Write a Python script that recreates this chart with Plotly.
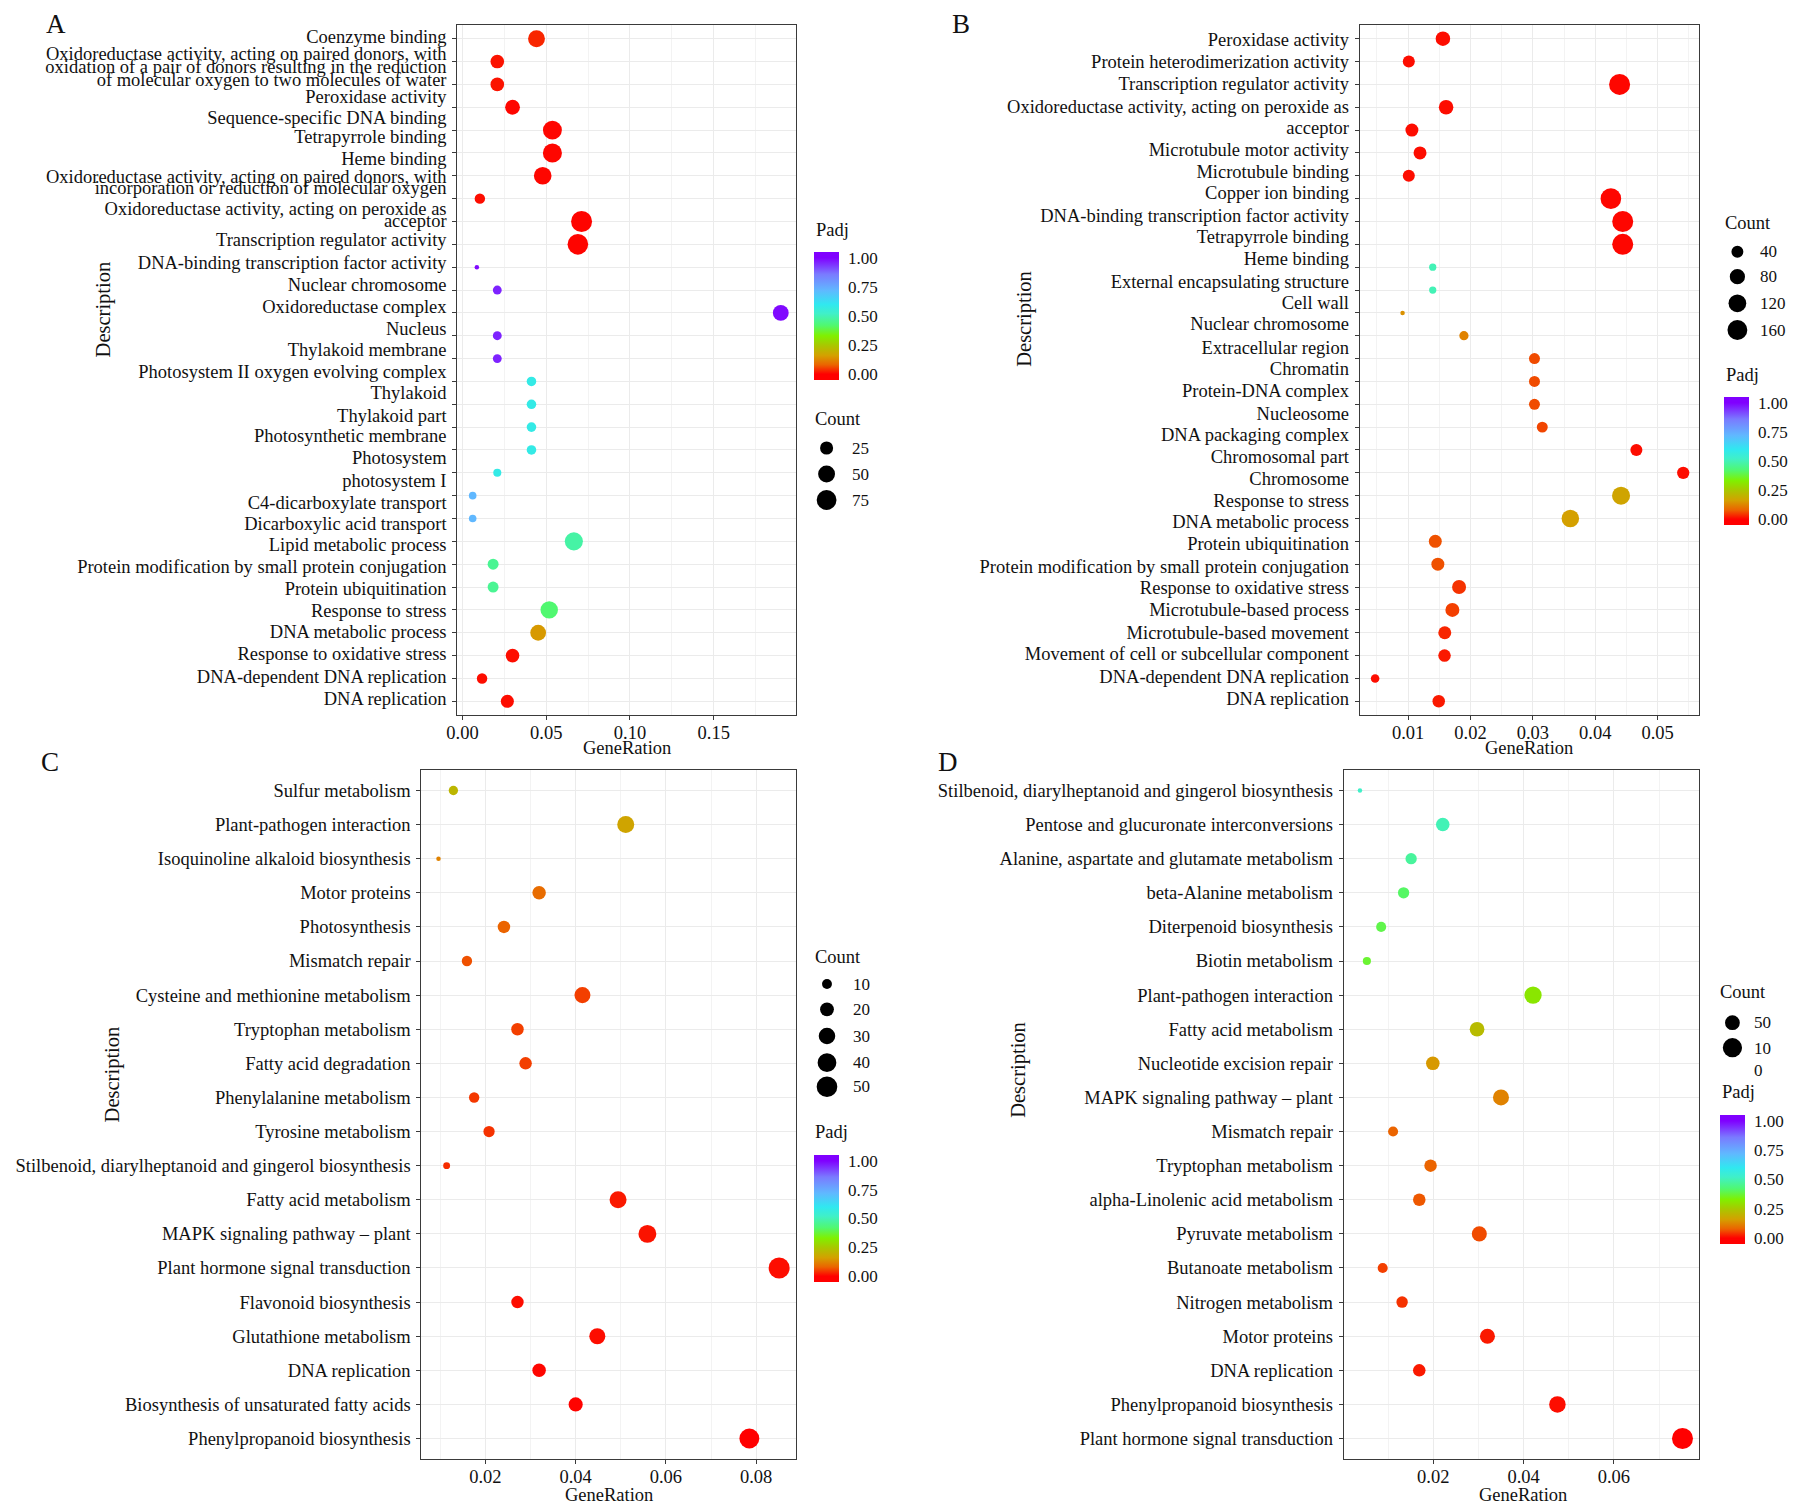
import math
import plotly.graph_objects as go

FONT = "Liberation Serif"
W, H = 1801, 1512

# ------------------------------------------------------------------ data
terms_A = [
    "Coenzyme binding",
    "Oxidoreductase activity, acting on paired donors, with oxidation of a pair of donors resulting in the reduction of molecular oxygen to two molecules of water",
    "Peroxidase activity",
    "Sequence-specific DNA binding",
    "Tetrapyrrole binding",
    "Heme binding",
    "Oxidoreductase activity, acting on paired donors, with incorporation or reduction of molecular oxygen",
    "Oxidoreductase activity, acting on peroxide as acceptor",
    "Transcription regulator activity",
    "DNA-binding transcription factor activity",
    "Nuclear chromosome",
    "Oxidoreductase complex",
    "Nucleus",
    "Thylakoid membrane",
    "Photosystem II oxygen evolving complex",
    "Thylakoid",
    "Thylakoid part",
    "Photosynthetic membrane",
    "Photosystem",
    "photosystem I",
    "C4-dicarboxylate transport",
    "Dicarboxylic acid transport",
    "Lipid metabolic process",
    "Protein modification by small protein conjugation",
    "Protein ubiquitination",
    "Response to stress",
    "DNA metabolic process",
    "Response to oxidative stress",
    "DNA-dependent DNA replication",
    "DNA replication",
]
generatio_A = [0.0442, 0.0208, 0.0208, 0.0299, 0.0537, 0.0537, 0.0479, 0.0104, 0.0711, 0.0689,
               0.0086, 0.0208, 0.1900, 0.0208, 0.0208, 0.0412, 0.0412, 0.0412, 0.0412, 0.0208,
               0.0061, 0.0061, 0.0665, 0.0183, 0.0183, 0.0518, 0.0452, 0.0299, 0.0117, 0.0268]
count_A = [50, 28, 28, 35, 67, 68, 56, 13, 87, 83,
           2, 8, 42, 8, 8, 10, 10, 10, 10, 6,
           5, 5, 60, 15, 15, 54, 42, 28, 13, 25]
padj_A = [0.03, 0.015, 0.015, 0.005, 0.005, 0.005, 0.005, 0.01, 0.003, 0.003,
          0.99, 0.96, 0.99, 0.96, 0.96, 0.58, 0.58, 0.58, 0.58, 0.58,
          0.72, 0.72, 0.48, 0.46, 0.46, 0.42, 0.15, 0.01, 0.01, 0.01]
# description text as printed beside panel A (lines, with their row)
label_lines_A = [
    "Coenzyme binding",
    "Oxidoreductase activity, acting on paired donors, with",
    "oxidation of a pair of donors resulting in the reduction",
    "of molecular oxygen to two molecules of water",
    "Peroxidase activity",
    "Sequence-specific DNA binding",
    "Tetrapyrrole binding",
    "Heme binding",
    "Oxidoreductase activity, acting on paired donors, with",
    "incorporation or reduction of molecular oxygen",
    "Oxidoreductase activity, acting on peroxide as",
    "acceptor",
    "Transcription regulator activity",
    "DNA-binding transcription factor activity",
    "Nuclear chromosome",
    "Oxidoreductase complex",
    "Nucleus",
    "Thylakoid membrane",
    "Photosystem II oxygen evolving complex",
    "Thylakoid",
    "Thylakoid part",
    "Photosynthetic membrane",
    "Photosystem",
    "photosystem I",
    "C4-dicarboxylate transport",
    "Dicarboxylic acid transport",
    "Lipid metabolic process",
    "Protein modification by small protein conjugation",
    "Protein ubiquitination",
    "Response to stress",
    "DNA metabolic process",
    "Response to oxidative stress",
    "DNA-dependent DNA replication",
    "DNA replication",
]
label_rows_A = [-0.08, 0.66, 1.20, 1.78, 2.55, 3.43, 4.27, 5.25, 6.01, 6.51, 7.43, 7.97,
                8.80, 9.80, 10.75, 11.70, 12.67, 13.60, 14.57, 15.49, 16.48, 17.38, 18.33,
                19.34, 20.30, 21.23, 22.16, 23.12, 24.07, 25.03, 25.96, 26.93, 27.90, 28.89]

terms_B = [
    "Peroxidase activity",
    "Protein heterodimerization activity",
    "Transcription regulator activity",
    "Oxidoreductase activity, acting on peroxide as acceptor",
    "Microtubule motor activity",
    "Microtubule binding",
    "Copper ion binding",
    "DNA-binding transcription factor activity",
    "Tetrapyrrole binding",
    "Heme binding",
    "External encapsulating structure",
    "Cell wall",
    "Nuclear chromosome",
    "Extracellular region",
    "Chromatin",
    "Protein-DNA complex",
    "Nucleosome",
    "DNA packaging complex",
    "Chromosomal part",
    "Chromosome",
    "Response to stress",
    "DNA metabolic process",
    "Protein ubiquitination",
    "Protein modification by small protein conjugation",
    "Response to oxidative stress",
    "Microtubule-based process",
    "Microtubule-based movement",
    "Movement of cell or subcellular component",
    "DNA-dependent DNA replication",
    "DNA replication",
]
generatio_B = [0.01557, 0.0101, 0.0439, 0.01608, 0.0106, 0.0119, 0.0101, 0.0425, 0.0444, 0.0444,
               0.01394, 0.01394, 0.0091, 0.01894, 0.03025, 0.03025, 0.03025, 0.0315, 0.04659, 0.0541,
               0.04413, 0.0360, 0.01435, 0.01476, 0.01816, 0.01709, 0.01587, 0.01583, 0.0047, 0.0149]
count_B = [70, 41, 185, 70, 51, 51, 41, 176, 185, 185,
           8, 8, 3, 18, 31, 31, 31, 31, 41, 44,
           125, 116, 51, 51, 63, 63, 51, 46, 14, 46]
padj_B = [0.01, 0.01, 0.005, 0.01, 0.01, 0.01, 0.01, 0.005, 0.005, 0.005,
          0.50, 0.50, 0.14, 0.12, 0.06, 0.06, 0.06, 0.055, 0.01, 0.01,
          0.17, 0.16, 0.065, 0.065, 0.04, 0.05, 0.03, 0.02, 0.01, 0.02]
label_lines_B = [
    "Peroxidase activity",
    "Protein heterodimerization activity",
    "Transcription regulator activity",
    "Oxidoreductase activity, acting on peroxide as",
    "acceptor",
    "Microtubule motor activity",
    "Microtubule binding",
    "Copper ion binding",
    "DNA-binding transcription factor activity",
    "Tetrapyrrole binding",
    "Heme binding",
    "External encapsulating structure",
    "Cell wall",
    "Nuclear chromosome",
    "Extracellular region",
    "Chromatin",
    "Protein-DNA complex",
    "Nucleosome",
    "DNA packaging complex",
    "Chromosomal part",
    "Chromosome",
    "Response to stress",
    "DNA metabolic process",
    "Protein ubiquitination",
    "Protein modification by small protein conjugation",
    "Response to oxidative stress",
    "Microtubule-based process",
    "Microtubule-based movement",
    "Movement of cell or subcellular component",
    "DNA-dependent DNA replication",
    "DNA replication",
]
label_rows_B = [0.04, 0.98, 1.97, 2.96, 3.89, 4.85, 5.83, 6.75, 7.75, 8.67, 9.62, 10.64,
                11.56, 12.47, 13.50, 14.45, 15.40, 16.39, 17.34, 18.28, 19.23, 20.20,
                21.15, 22.10, 23.09, 24.04, 24.99, 25.98, 26.93, 27.90, 28.89]

terms_C = [
    "Sulfur metabolism",
    "Plant-pathogen interaction",
    "Isoquinoline alkaloid biosynthesis",
    "Motor proteins",
    "Photosynthesis",
    "Mismatch repair",
    "Cysteine and methionine metabolism",
    "Tryptophan metabolism",
    "Fatty acid degradation",
    "Phenylalanine metabolism",
    "Tyrosine metabolism",
    "Stilbenoid, diarylheptanoid and gingerol biosynthesis",
    "Fatty acid metabolism",
    "MAPK signaling pathway \u2013 plant",
    "Plant hormone signal transduction",
    "Flavonoid biosynthesis",
    "Glutathione metabolism",
    "DNA replication",
    "Biosynthesis of unsaturated fatty acids",
    "Phenylpropanoid biosynthesis",
]
generatio_C = [0.0129, 0.0511, 0.0096, 0.0319, 0.0241, 0.0159, 0.0415, 0.0271, 0.0289, 0.0175,
               0.0208, 0.0114, 0.0494, 0.0559, 0.0851, 0.0271, 0.0448, 0.0319, 0.0400, 0.0785]
count_C = [9, 32, 5, 19, 16, 11, 28, 16, 16, 11, 13, 6, 32, 36, 52, 16, 28, 19, 21, 46]
padj_C = [0.21, 0.17, 0.12, 0.09, 0.08, 0.065, 0.05, 0.05, 0.05, 0.045,
          0.04, 0.035, 0.02, 0.015, 0.01, 0.01, 0.01, 0.005, 0.002, 0.0]

terms_D = [
    "Stilbenoid, diarylheptanoid and gingerol biosynthesis",
    "Pentose and glucuronate interconversions",
    "Alanine, aspartate and glutamate metabolism",
    "beta-Alanine metabolism",
    "Diterpenoid biosynthesis",
    "Biotin metabolism",
    "Plant-pathogen interaction",
    "Fatty acid metabolism",
    "Nucleotide excision repair",
    "MAPK signaling pathway \u2013 plant",
    "Mismatch repair",
    "Tryptophan metabolism",
    "alpha-Linolenic acid metabolism",
    "Pyruvate metabolism",
    "Butanoate metabolism",
    "Nitrogen metabolism",
    "Motor proteins",
    "DNA replication",
    "Phenylpropanoid biosynthesis",
    "Plant hormone signal transduction",
]
generatio_D = [0.00376, 0.0221, 0.0151, 0.01343, 0.00846, 0.0053, 0.0421, 0.0297, 0.0199, 0.0350,
               0.0111, 0.0194, 0.0169, 0.0302, 0.0088, 0.0131, 0.0320, 0.0169, 0.0475, 0.0752]
count_D = [2, 39, 23, 23, 16, 8, 76, 49, 39, 62, 16, 31, 31, 52, 16, 24, 52, 31, 67, 125]
padj_D = [0.52, 0.50, 0.47, 0.41, 0.39, 0.37, 0.31, 0.22, 0.15, 0.12,
          0.08, 0.08, 0.07, 0.06, 0.05, 0.04, 0.02, 0.02, 0.01, 0.0]

count_breaks_A = [25, 50, 75]
count_labels_A = ["25", "50", "75"]
count_breaks_B = [40, 80, 120, 160]
count_labels_B = ["40", "80", "120", "160"]
count_breaks_C = [10, 20, 30, 40, 50]
count_labels_C = ["10", "20", "30", "40", "50"]
count_breaks_D = [50, 100]
count_labels_D = ["50", "10<br>0"]

padj_ticks = [0.0, 0.25, 0.5, 0.75, 1.0]
padj_ticktext = ["0.00", "0.25", "0.50", "0.75", "1.00"]

# ------------------------------------------------------------------ style
CMIN, CMAX = -0.05, 1.05
padj_stops = [(0.0, "#FF0000"), (0.08, "#EB6400"), (0.16, "#D4A000"), (0.25, "#A8C800"),
              (0.33, "#80F000"), (0.42, "#50F870"), (0.52, "#40F0C8"), (0.60, "#30E8F0"),
              (0.72, "#60B8FF"), (0.86, "#7A7AFF"), (1.0, "#8000FF")]
colorscale = [[0.0, "#FF0000"]] + [[(p - CMIN) / (CMAX - CMIN), c] for p, c in padj_stops] + [[1.0, "#8000FF"]]

D_MIN, D_RANGE = 4.5, 16.5
GRID = "#EBEBEB"
LINE = "#3a3a3a"
TXT = "#111111"
X_SHIFT = -9
BAR_W = 25


def px_x(v):
    return (v + X_SHIFT) / W


def px_y(v):
    return 1 - v / H


def diam(c, lo, hi):
    return D_MIN + D_RANGE * math.sqrt(max(c - lo, 0) / (hi - lo))


def xrange(vals):
    lo, hi = min(vals), max(vals)
    s = hi - lo
    return [lo - 0.05 * s, hi + 0.05 * s]


panels = [
    dict(key="A", terms=terms_A, gr=generatio_A, cnt=count_A, padj=padj_A,
         xdom=(458, 799), ydom=(25, 715), dtick=0.05, minor=0.025,
         lines=label_lines_A, rows=label_rows_A,
         breaks=count_breaks_A, blabels=count_labels_A,
         leg=dict(count_title=(816, 419), circ_x=829.6, circ_y=[448, 474, 500], lab_x=853,
                  padj_title=(817, 230), bar_x=817, bar_top=252, bar_len=128),
         letter=(42, 24), desc=(103, 309), gene=(628.5, 748)),
    dict(key="B", terms=terms_B, gr=generatio_B, cnt=count_B, padj=padj_B,
         xdom=(1366, 1707), ydom=(25, 715), dtick=0.01, minor=0.005,
         lines=label_lines_B, rows=label_rows_B,
         breaks=count_breaks_B, blabels=count_labels_B,
         leg=dict(count_title=(1732, 223), circ_x=1746, circ_y=[251.7, 276.7, 303.3, 330], lab_x=1767,
                  padj_title=(1733, 375), bar_x=1733, bar_top=397, bar_len=128),
         letter=(954, 24), desc=(1028, 319), gene=(1536.5, 748)),
    dict(key="C", terms=terms_C, gr=generatio_C, cnt=count_C, padj=padj_C,
         xdom=(422, 799), ydom=(770, 1459), dtick=0.02, minor=0.01,
         lines=None, rows=None,
         breaks=count_breaks_C, blabels=count_labels_C,
         leg=dict(count_title=(816, 956.7), circ_x=830, circ_y=[984, 1009.3, 1036, 1062.7, 1086.7], lab_x=854,
                  padj_title=(816, 1131.7), bar_x=817.3, bar_top=1155, bar_len=127),
         letter=(37, 762), desc=(111, 1074), gene=(611, 1495)),
    dict(key="D", terms=terms_D, gr=generatio_D, cnt=count_D, padj=padj_D,
         xdom=(1350, 1707), ydom=(770, 1459), dtick=0.02, minor=0.01,
         lines=None, rows=None,
         breaks=count_breaks_D, blabels=count_labels_D,
         leg=dict(count_title=(1726, 991.7), circ_x=1741, circ_y=[1022.7, 1047.7], lab_x=1761,
                  padj_title=(1729, 1091.7), bar_x=1728, bar_top=1115, bar_len=129),
         letter=(940, 762), desc=(1022, 1070), gene=(1530, 1495)),
]

fig = go.Figure()
layout = dict(
    width=W, height=H, autosize=False,
    margin=dict(l=0, r=0, t=0, b=0, pad=0),
    paper_bgcolor="white", plot_bgcolor="white",
    font=dict(family=FONT, size=18, color=TXT),
    showlegend=False,
)
annotations = []
shapes = []

for i, p in enumerate(panels):
    n = i + 1
    xa = "x" if n == 1 else f"x{n}"
    ya = "y" if n == 1 else f"y{n}"
    cax = "coloraxis" if n == 1 else f"coloraxis{n}"
    lo, hi = min(p["cnt"]), max(p["cnt"])
    sizes = [diam(c, lo, hi) for c in p["cnt"]]
    fig.add_trace(go.Scatter(
        x=p["gr"], y=p["terms"], mode="markers", xaxis=xa, yaxis=ya,
        marker=dict(size=sizes, sizemode="diameter", color=p["padj"], coloraxis=cax,
                    line=dict(width=0), opacity=1),
        hoverinfo="x+y", showlegend=False,
    ))
    nt = len(p["terms"])
    x0, x1 = p["xdom"]
    y0, y1 = p["ydom"]
    layout[f"xaxis{'' if n == 1 else n}"] = dict(
        domain=[px_x(x0), px_x(x1)], anchor=ya, range=xrange(p["gr"]),
        tick0=0, dtick=p["dtick"], tickformat=".2f",
        ticks="outside", ticklen=4, tickcolor=LINE, tickwidth=1,
        ticklabelstandoff=-3,
        tickfont=dict(family=FONT, size=18.5, color=TXT),
        showgrid=True, gridcolor=GRID, gridwidth=1.3,
        minor=dict(dtick=p["minor"], showgrid=True, gridcolor="#F3F3F3", gridwidth=0.8),
        showline=True, mirror=True, linecolor=LINE, linewidth=1.3, zeroline=False,
        fixedrange=True,
    )
    layout[f"yaxis{'' if n == 1 else n}"] = dict(
        domain=[px_y(y1), px_y(y0)], anchor=xa, type="category",
        categoryorder="array", categoryarray=p["terms"],
        range=[nt - 1 + 0.6, -0.6],
        ticks="outside", ticklen=4, tickcolor=LINE, tickwidth=1,
        showticklabels=p["lines"] is None, ticklabelstandoff=2,
        tickfont=dict(family=FONT, size=18.5, color=TXT),
        showgrid=True, gridcolor=GRID, gridwidth=1.3,
        showline=True, mirror=True, linecolor=LINE, linewidth=1.3, zeroline=False,
        fixedrange=True,
    )
    if p["lines"] is not None:
        on = 4 + n
        layout[f"yaxis{on}"] = dict(
            overlaying=ya, anchor=xa, side="left", type="linear",
            range=[nt - 1 + 0.6, -0.6], tickmode="array",
            tickvals=p["rows"], ticktext=p["lines"],
            ticks="outside", ticklen=4, tickcolor="rgba(0,0,0,0)", ticklabelstandoff=2,
            tickfont=dict(family=FONT, size=18.5, color=TXT),
            showgrid=False, zeroline=False, showline=False, fixedrange=True,
        )
        fig.add_trace(go.Scatter(x=[None], y=[None], xaxis=xa, yaxis=f"y{on}",
                                 mode="markers", showlegend=False, hoverinfo="skip"))

    lg = p["leg"]
    layout[cax] = dict(
        cmin=CMIN, cmax=CMAX, colorscale=colorscale,
        colorbar=dict(
            x=px_x(lg["bar_x"]), xanchor="left", xpad=0,
            y=px_y(lg["bar_top"]), yanchor="top", ypad=0,
            lenmode="pixels", len=lg["bar_len"], thicknessmode="pixels", thickness=BAR_W,
            outlinewidth=0, tickmode="array", tickvals=padj_ticks, ticktext=padj_ticktext,
            ticks="outside", ticklen=6, tickcolor="rgba(0,0,0,0)",
            tickfont=dict(family=FONT, size=17, color=TXT),
        ),
    )
    # white tick marks inside the colour bar (ggplot style)
    for t in padj_ticks:
        ty = lg["bar_top"] + (CMAX - t) / (CMAX - CMIN) * lg["bar_len"]
        for a, b in ((lg["bar_x"], lg["bar_x"] + 5), (lg["bar_x"] + BAR_W - 5, lg["bar_x"] + BAR_W)):
            shapes.append(dict(type="line", xref="paper", yref="paper",
                               x0=px_x(a), x1=px_x(b), y0=px_y(ty), y1=px_y(ty),
                               line=dict(color="white", width=1.2)))
    # legend titles
    annotations.append(dict(text="Count", x=px_x(lg["count_title"][0]), y=px_y(lg["count_title"][1]),
                            xref="paper", yref="paper", xanchor="left", yanchor="middle",
                            showarrow=False, font=dict(family=FONT, size=18.5, color=TXT)))
    annotations.append(dict(text="Padj", x=px_x(lg["padj_title"][0]), y=px_y(lg["padj_title"][1]),
                            xref="paper", yref="paper", xanchor="left", yanchor="middle",
                            showarrow=False, font=dict(family=FONT, size=18.5, color=TXT)))
    # size legend keys
    for b, lab, cy in zip(p["breaks"], p["blabels"], lg["circ_y"]):
        r = diam(b, lo, hi) / 2
        shapes.append(dict(type="circle", xref="paper", yref="paper",
                           xsizemode="pixel", ysizemode="pixel",
                           xanchor=px_x(lg["circ_x"]), yanchor=px_y(cy),
                           x0=-r, x1=r, y0=-r, y1=r,
                           fillcolor="black", line=dict(width=0)))
        if "<br>" in lab:
            annotations.append(dict(text=lab, x=px_x(lg["lab_x"]), y=px_y(cy - 11),
                                    xref="paper", yref="paper", xanchor="left", yanchor="top",
                                    showarrow=False, align="left",
                                    font=dict(family=FONT, size=17, color=TXT)))
        else:
            annotations.append(dict(text=lab, x=px_x(lg["lab_x"]), y=px_y(cy),
                                    xref="paper", yref="paper", xanchor="left", yanchor="middle",
                                    showarrow=False, font=dict(family=FONT, size=17, color=TXT)))
    # panel letter, axis titles
    annotations.append(dict(text=p["key"], x=px_x(p["letter"][0]), y=px_y(p["letter"][1]),
                            xref="paper", yref="paper", xanchor="left", yanchor="middle",
                            showarrow=False, font=dict(family=FONT, size=27, color=TXT)))
    annotations.append(dict(text="Description", x=px_x(p["desc"][0]), y=px_y(p["desc"][1]),
                            xref="paper", yref="paper", xanchor="center", yanchor="middle",
                            textangle=-90, showarrow=False,
                            font=dict(family=FONT, size=20.5, color=TXT)))
    annotations.append(dict(text="GeneRation", x=px_x(p["gene"][0]), y=px_y(p["gene"][1]),
                            xref="paper", yref="paper", xanchor="center", yanchor="middle",
                            showarrow=False, font=dict(family=FONT, size=18.5, color=TXT)))

layout["annotations"] = annotations
layout["shapes"] = shapes
fig.update_layout(**layout)

fig.write_html("out.html", config={"displayModeBar": False},
               post_script="document.body.style.margin='0';document.body.style.overflow='hidden';")
